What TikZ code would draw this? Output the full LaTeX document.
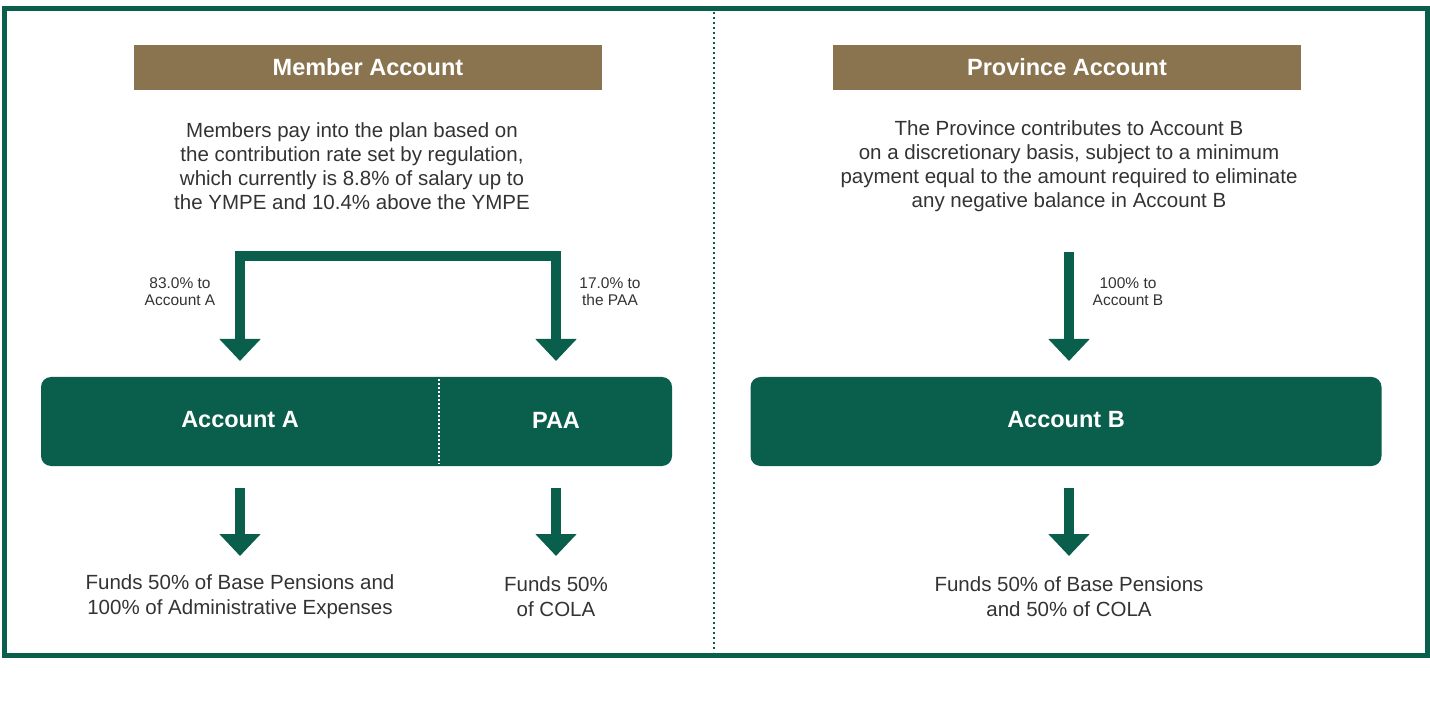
\documentclass[tikz,border=0pt]{standalone}
\usepackage{fontspec}
\setmainfont{Liberation Sans}
\usetikzlibrary{arrows.meta}
\definecolor{fgreen}{HTML}{0A5E4C}
\definecolor{fbrown}{HTML}{8A7450}
\definecolor{txt}{HTML}{333333}
\tikzset{
  header/.style={fill=fbrown, text=white, font=\bfseries\fontsize{23.5}{26}\selectfont, minimum width=468pt, minimum height=45pt, inner sep=0pt},
  para/.style={text=txt, align=center, font=\fontsize{20.5}{24}\selectfont, inner sep=0pt},
  fund/.style={text=txt, align=center, font=\fontsize{20.5}{25}\selectfont, inner sep=0pt},
  small/.style={text=txt, align=center, font=\fontsize{15.5}{17}\selectfont, inner sep=0pt},
  bigbox/.style={fill=fgreen, rounded corners=10pt, minimum width=631pt, minimum height=89pt, inner sep=0pt},
  boxtxt/.style={text=white, font=\bfseries\fontsize{23.5}{26}\selectfont, inner sep=0pt},
  flow/.style={draw=fgreen, line width=10pt, line join=miter, -{Triangle[width=40pt,length=22pt]}},
}
\begin{document}
\begin{tikzpicture}[x=1pt,y=-1pt]
\useasboundingbox (0,0) rectangle (1430,708);
% frame
\draw[fgreen, line width=5pt] (4,9) rectangle (1427,655);
\draw[fgreen, line width=1.6pt, dash pattern=on 1.6pt off 3.4pt] (714,12) -- (714,652);

% left side
\node[header] (mh) at (368,67.5) {Member Account};
\node[para] (mp) at (352,166) {Members pay into the plan based on\\the contribution rate set by regulation,\\which currently is 8.8\% of salary up to\\the YMPE and 10.4\% above the YMPE};
\node[bigbox] (mbox) at (356.5,421.5) {};
\draw[white, line width=1.6pt, dash pattern=on 1.6pt off 2.4pt] (439,379) -- (439,464);
\node[boxtxt] (acca) at (240,420) {Account A};
\node[boxtxt] (paa) at (556,420) {PAA};
\coordinate (split) at (398,256);
\coordinate (acca-t) at (240,361);
\coordinate (paa-t) at (556,361);
\draw[flow] (split) -| (acca-t);
\draw[flow] (split) -| (paa-t);
\node[small] (la) at (180,292) {83.0\% to\\Account A};
\node[small] (lp) at (610,292) {17.0\% to\\the PAA};
\coordinate (acca-b) at (240,488);
\coordinate (paa-b) at (556,488);
\coordinate (fa-t) at (240,556);
\coordinate (fp-t) at (556,556);
\node[fund] (fa) at (240,597) {Funds 50\% of Base Pensions and\\100\% of Administrative Expenses};
\node[fund] (fp) at (556,597) {Funds 50\%\\of COLA};
\draw[flow] (acca-b) -- (fa-t);
\draw[flow] (paa-b) -- (fp-t);

% right side
\node[header] (ph) at (1067,67.5) {Province Account};
\node[para] (pp) at (1069,166) {The Province contributes to Account B\\on a discretionary basis, subject to a minimum\\payment equal to the amount required to eliminate\\any negative balance in Account B};
\node[bigbox] (bbox) at (1066,421.5) {};
\node[boxtxt] (accb) at (1066,420) {Account B};
\coordinate (ptop) at (1069,252);
\coordinate (accb-t) at (1069,361);
\draw[flow] (ptop) -- (accb-t);
\node[small] (lb) at (1128,292) {100\% to\\Account B};
\coordinate (accb-b) at (1069,488);
\coordinate (fb-t) at (1069,556);
\node[fund] (fb) at (1069,597) {Funds 50\% of Base Pensions\\and 50\% of COLA};
\draw[flow] (accb-b) -- (fb-t);
\end{tikzpicture}
\end{document}
